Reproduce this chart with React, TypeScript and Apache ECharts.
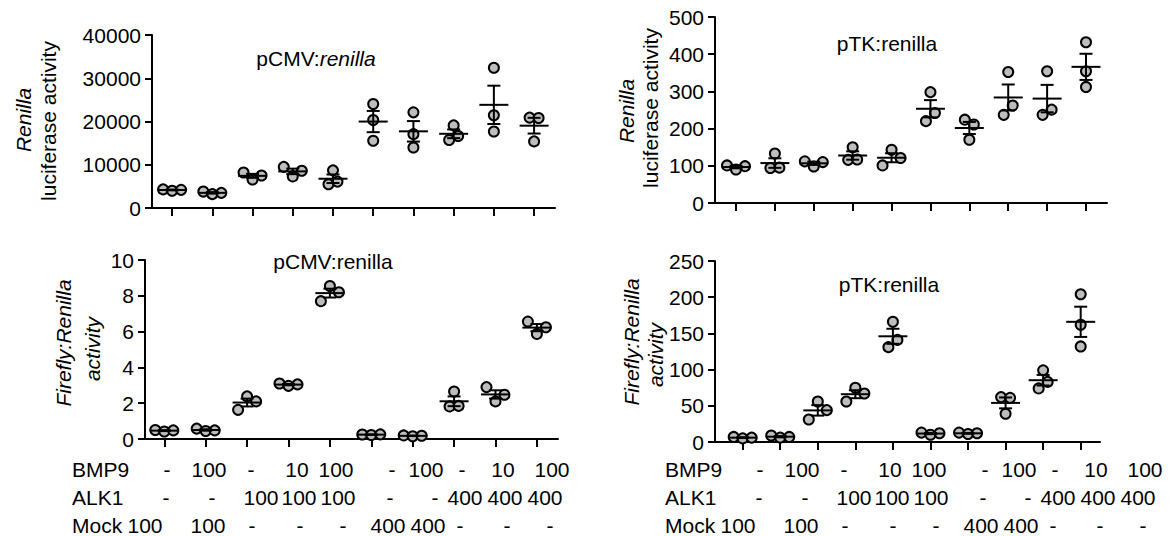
import React, { useEffect, useRef } from "react";
import * as echarts from "echarts";

// ---------------- data ----------------
const groups = [0, 1, 2, 3, 4, 5, 6, 7, 8, 9];

// Renilla luciferase activity, pCMV:renilla (3 replicates per group)
const cmvRenilla: number[][] = [
  [4300, 4000, 4200],
  [3800, 3200, 3500],
  [8200, 6600, 7500],
  [9500, 7300, 8600],
  [5500, 8700, 6100],
  [24050, 20350, 15560],
  [22120, 17070, 13990],
  [19100, 15720, 16650],
  [32440, 21430, 17690],
  [20900, 20800, 15400],
];

// Renilla luciferase activity, pTK:renilla
const tkRenilla: number[][] = [
  [101, 90, 99],
  [94, 133, 95],
  [112, 98, 110],
  [116, 150, 117],
  [101, 143, 121],
  [220, 298, 242],
  [224, 170, 211],
  [237, 352, 262],
  [237, 354, 251],
  [312, 432, 354],
];

// Firefly:Renilla activity, pCMV:renilla
const cmvRatio: number[][] = [
  [0.5, 0.42, 0.48],
  [0.58, 0.45, 0.48],
  [1.63, 2.38, 2.1],
  [3.1, 2.97, 3.05],
  [7.7, 8.55, 8.2],
  [0.25, 0.22, 0.26],
  [0.2, 0.15, 0.18],
  [1.82, 2.65, 1.85],
  [2.9, 2.1, 2.47],
  [6.56, 5.87, 6.24],
];

// Firefly:Renilla activity, pTK:renilla
const tkRatio: number[][] = [
  [7, 5, 6],
  [9, 6, 7],
  [31, 56, 44],
  [56, 75, 67],
  [131, 166, 141],
  [13, 10, 12],
  [13, 11, 12],
  [62, 39, 61],
  [74, 99, 83],
  [204, 162, 132],
];

// condition table
const rowLabels = ["BMP9", "ALK1", "Mock"];
const bmp9 = ["-", "100", "-", "10", "100", "-", "100", "-", "10", "100"];
const alk1 = ["-", "-", "100", "100", "100", "-", "-", "400", "400", "400"];
const mock = ["100", "100", "-", "-", "-", "400", "400", "-", "-", "-"];
const tableRows = [bmp9, alk1, mock];

// ---------------- layout / style ----------------
const FONT = "'Liberation Sans', Arial, Helvetica, sans-serif";
const FS = 21;
const BLACK = "#000";

type PanelCfg = {
  data: number[][];
  yMax: number;
  yInterval: number;
  grid: { left: number; top: number; width: number; height: number };
  xMin: number;
  xMax: number;
};

const panels: PanelCfg[] = [
  { data: cmvRenilla, yMax: 40000, yInterval: 10000, grid: { left: 152, top: 35, width: 403, height: 173 }, xMin: -0.5, xMax: 9.52 },
  { data: tkRenilla, yMax: 500, yInterval: 100, grid: { left: 715, top: 17, width: 392, height: 186 }, xMin: -0.54, xMax: 9.54 },
  { data: cmvRatio, yMax: 10, yInterval: 2, grid: { left: 145, top: 260, width: 413, height: 179 }, xMin: -0.466, xMax: 9.51 },
  { data: tkRatio, yMax: 250, yInterval: 50, grid: { left: 715, top: 261, width: 385, height: 181 }, xMin: -0.737, xMax: 9.514 },
];

// table layout: left x of each table, row centre y, column centre offsets
const tableLefts = [72, 665];
const rowYs = [469, 497, 525];
const colOffsets = [
  [95, 137, 179, 225, 264, 320, 354, 390, 431, 480],
  [94, 140, 189, 227, 266, 318, 363, 393, 433, 473],
  [73, 136, 180, 228, 271, 316, 356, 388, 435, 478],
];

const STEP = 9;
const THRESH = 10;

function swarmOffsets(vals: number[], pxPerUnit: number): number[] {
  const order = vals.map((_, i) => i).sort((a, b) => vals[a] - vals[b]);
  const clusters: number[][] = [];
  let cur = [order[0]];
  for (let k = 1; k < order.length; k++) {
    const prev = order[k - 1];
    const idx = order[k];
    if ((vals[idx] - vals[prev]) * pxPerUnit < THRESH) cur.push(idx);
    else {
      clusters.push(cur);
      cur = [idx];
    }
  }
  clusters.push(cur);
  const off = new Array(vals.length).fill(0);
  clusters.forEach((c) => {
    const s = [...c].sort((a, b) => a - b);
    s.forEach((idx, j) => {
      off[idx] = (j - (s.length - 1) / 2) * STEP;
    });
  });
  return off;
}

function meanSem(vals: number[]): [number, number] {
  const n = vals.length;
  const m = vals.reduce((a, b) => a + b, 0) / n;
  const v = vals.reduce((a, b) => a + (b - m) * (b - m), 0) / (n - 1);
  return [m, Math.sqrt(v) / Math.sqrt(n)];
}

function buildOption() {
  const grid: any[] = [];
  const xAxis: any[] = [];
  const yAxis: any[] = [];
  const series: any[] = [];

  panels.forEach((p, k) => {
    grid.push({ ...p.grid, containLabel: false });
    xAxis.push({
      type: "value",
      gridIndex: k,
      min: p.xMin,
      max: p.xMax,
      axisLine: { show: true, onZero: false, lineStyle: { color: BLACK, width: 2 } },
      axisTick: { show: true, customValues: groups, length: 8, lineStyle: { color: BLACK, width: 2 } },
      axisLabel: { show: false },
      splitLine: { show: false },
    });
    yAxis.push({
      type: "value",
      gridIndex: k,
      min: 0,
      max: p.yMax,
      interval: p.yInterval,
      axisLine: { show: true, onZero: false, lineStyle: { color: BLACK, width: 2 } },
      axisTick: { show: true, length: 7, lineStyle: { color: BLACK, width: 2 } },
      axisLabel: {
        color: BLACK,
        fontSize: FS,
        fontFamily: FONT,
        margin: 11,
        formatter: (v: number) => String(v),
      },
      splitLine: { show: false },
    });

    const pxPerUnit = p.grid.height / p.yMax;
    const pts: any[] = [];
    const stats: number[][] = [];
    p.data.forEach((vals, gi) => {
      const offs = swarmOffsets(vals, pxPerUnit);
      vals.forEach((v, j) => {
        pts.push({ value: [groups[gi], v], symbolOffset: [offs[j], 0] });
      });
      const [m, s] = meanSem(vals);
      stats.push([groups[gi], m, s]);
    });

    series.push({
      type: "scatter",
      xAxisIndex: k,
      yAxisIndex: k,
      symbol: "circle",
      symbolSize: 10,
      itemStyle: { color: "#bdbdbd", borderColor: BLACK, borderWidth: 2, opacity: 1 },
      data: pts,
      z: 2,
      silent: true,
    });

    series.push({
      type: "custom",
      xAxisIndex: k,
      yAxisIndex: k,
      z: 3,
      clip: false,
      silent: true,
      data: stats,
      encode: { x: 0, y: 1 },
      renderItem: (_params: any, api: any) => {
        const x = api.value(0);
        const m = api.value(1);
        const e = api.value(2);
        const c = api.coord([x, m]);
        const t = api.coord([x, m + e]);
        const b = api.coord([x, m - e]);
        const style = { stroke: BLACK, lineWidth: 2, fill: "none" };
        const mh = 14.5;
        const ch = 6.5;
        return {
          type: "group",
          children: [
            { type: "line", shape: { x1: c[0] - mh, y1: c[1], x2: c[0] + mh, y2: c[1] }, style },
            { type: "line", shape: { x1: c[0], y1: t[1], x2: c[0], y2: b[1] }, style },
            { type: "line", shape: { x1: c[0] - ch, y1: t[1], x2: c[0] + ch, y2: t[1] }, style },
            { type: "line", shape: { x1: c[0] - ch, y1: b[1], x2: c[0] + ch, y2: b[1] }, style },
          ],
        };
      },
    });
  });

  const txt = (text: string, x: number, y: number, extra: any = {}, rotation = 0) => ({
    type: "text",
    x,
    y,
    rotation,
    silent: true,
    style: {
      text,
      fill: BLACK,
      fontSize: FS,
      fontFamily: FONT,
      align: "center",
      verticalAlign: "middle",
      ...extra,
    },
  });
  const italicRich = { i: { fontStyle: "italic", fontSize: FS, fontFamily: FONT, fill: BLACK } };

  const graphic: any[] = [
    // panel titles
    txt("pCMV:{i|renilla}", 316, 58, { rich: italicRich }),
    txt("pTK:renilla", 887, 43),
    txt("pCMV:renilla", 333, 261),
    txt("pTK:renilla", 889, 284),
    // y axis titles
    txt("Renilla", 23, 120, { fontStyle: "italic" }, Math.PI / 2),
    txt("luciferase activity", 48, 121, {}, Math.PI / 2),
    txt("Renilla", 626, 111, { fontStyle: "italic" }, Math.PI / 2),
    txt("luciferase activity", 650, 108, {}, Math.PI / 2),
    txt("Firefly:Renilla", 63, 343, { fontStyle: "italic" }, Math.PI / 2),
    txt("activity", 92, 349, { fontStyle: "italic" }, Math.PI / 2),
    txt("Firefly:Renilla", 631, 342, { fontStyle: "italic" }, Math.PI / 2),
    txt("activity", 655, 355, { fontStyle: "italic" }, Math.PI / 2),
  ];

  tableLefts.forEach((left) => {
    tableRows.forEach((row, r) => {
      graphic.push(txt(rowLabels[r], left, rowYs[r], { align: "left" }));
      row.forEach((cell, c) => {
        graphic.push(txt(cell, left + colOffsets[r][c], rowYs[r]));
      });
    });
  });

  return {
    animation: false,
    backgroundColor: "#fff",
    grid,
    xAxis,
    yAxis,
    series,
    graphic,
  };
}

export default function App() {
  const ref = useRef<HTMLDivElement>(null);
  useEffect(() => {
    if (!ref.current) return;
    const chart = echarts.init(ref.current, undefined, { renderer: "svg" });
    chart.setOption(buildOption() as any);
    return () => chart.dispose();
  }, []);
  return (
    <div
      ref={ref}
      style={{ position: "fixed", left: 0, top: 0, width: 1175, height: 536, background: "#fff" }}
    />
  );
}
